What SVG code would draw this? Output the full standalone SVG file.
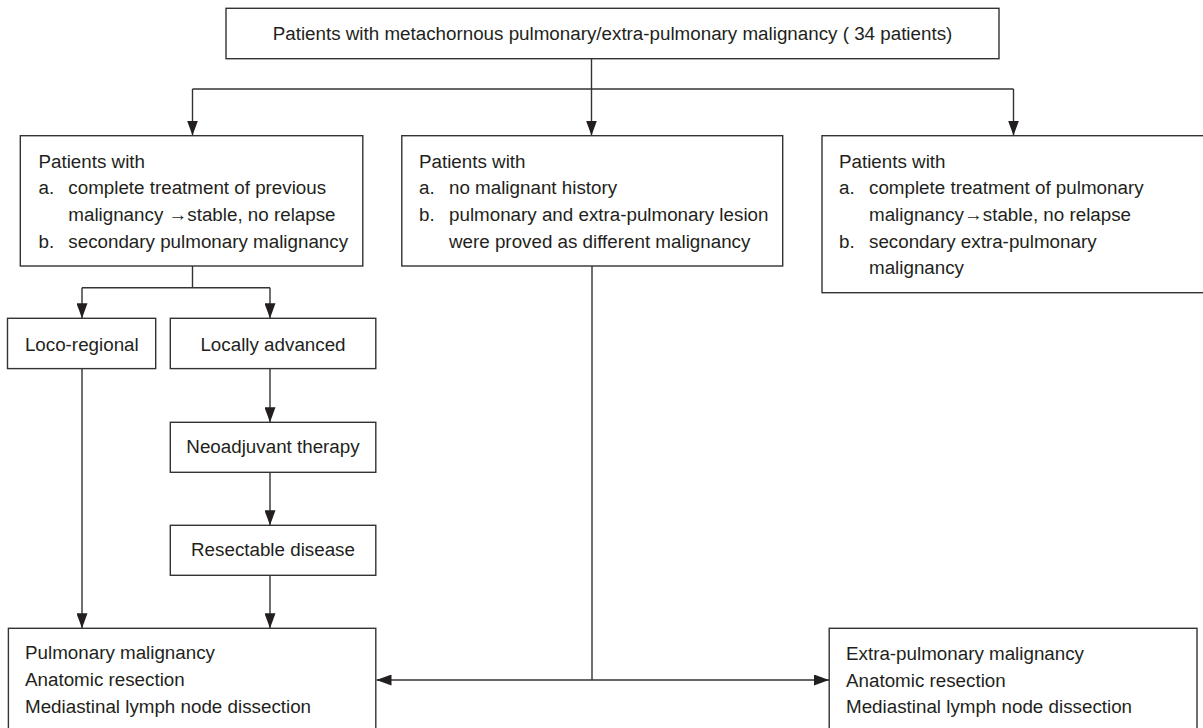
<svg xmlns="http://www.w3.org/2000/svg" width="1203" height="728" viewBox="0 0 1203 728">
<style>
.box{fill:#fff;stroke:#333;stroke-width:1.4}
.t{font-family:"Liberation Sans",Arial,Helvetica,sans-serif;font-size:18.8px;fill:#231f20}
.c{text-anchor:middle}
.ln{fill:none;stroke:#333;stroke-width:1.4}
.ar{marker-end:url(#ah)}
</style>
<defs>
<marker id="ah" markerUnits="userSpaceOnUse" markerWidth="15" markerHeight="11" refX="15" refY="5.5" orient="auto">
<path d="M0,0 L15,5.5 L0,11 z" fill="#231f20"/>
</marker>
</defs>
<rect width="1203" height="728" fill="#fff"/>
<g id="connectors">
<path class="ln" d="M591.5,59 V89"/>
<path class="ln" d="M192.5,89 H1013.5"/>
<path class="ln ar" d="M192.5,89 V135.5"/>
<path class="ln ar" d="M591.5,89 V135.5"/>
<path class="ln ar" d="M1013.5,89 V135.5"/>
<path class="ln" d="M192.5,266 V287.7 M82,287.7 H270"/>
<path class="ln ar" d="M82,287.7 V318.3"/>
<path class="ln ar" d="M270,287.7 V318.3"/>
<path class="ln ar" d="M270,369 V422.3"/>
<path class="ln ar" d="M270,472.3 V525.3"/>
<path class="ln ar" d="M270,575.3 V628.3"/>
<path class="ln ar" d="M82,369 V628.3"/>
<path class="ln" d="M592,266 V680"/>
<path class="ln ar" d="M592,680 H376.5"/>
<path class="ln ar" d="M592,680 H829"/>
</g>
<g id="top">
<rect class="box" x="226" y="8.3" width="773" height="50.4"/>
<text class="t c" x="612.5" y="40">Patients with metachornous pulmonary/extra-pulmonary malignancy ( 34 patients)</text>
</g>
<g id="left">
<rect class="box" x="20.3" y="135.7" width="342.5" height="130.3"/>
<text class="t" x="38.5" y="167.5">Patients with</text>
<text class="t" x="38.5" y="194.3">a.</text>
<text class="t" x="68.3" y="194.3">complete treatment of previous</text>
<text class="t" x="68.3" y="221">malignancy →stable, no relapse</text>
<text class="t" x="38.5" y="247.7">b.</text>
<text class="t" x="68.3" y="247.7">secondary pulmonary malignancy</text>
</g>
<g id="middle">
<rect class="box" x="401.8" y="135.7" width="380.9" height="130.3"/>
<text class="t" x="419" y="167.5">Patients with</text>
<text class="t" x="419" y="194.3">a.</text>
<text class="t" x="449" y="194.3">no malignant history</text>
<text class="t" x="419" y="221">b.</text>
<text class="t" x="449" y="221">pulmonary and extra-pulmonary lesion</text>
<text class="t" x="449" y="247.7">were proved as different malignancy</text>
</g>
<g id="right">
<rect class="box" x="822" y="135.7" width="390" height="157"/>
<text class="t" x="839" y="167.5">Patients with</text>
<text class="t" x="839" y="194.3">a.</text>
<text class="t" x="869" y="194.3">complete treatment of pulmonary</text>
<text class="t" x="869" y="221">malignancy→stable, no relapse</text>
<text class="t" x="839" y="247.7">b.</text>
<text class="t" x="869" y="247.7">secondary extra-pulmonary</text>
<text class="t" x="869" y="274.3">malignancy</text>
</g>
<g id="loco">
<rect class="box" x="7.5" y="318.3" width="148.2" height="50.3"/>
<text class="t c" x="81.8" y="350.7">Loco-regional</text>
</g>
<g id="locally">
<rect class="box" x="170.3" y="318.3" width="205.5" height="50.3"/>
<text class="t c" x="273" y="350.7">Locally advanced</text>
</g>
<g id="neo">
<rect class="box" x="170.3" y="422.3" width="205.5" height="50"/>
<text class="t c" x="273" y="453.3">Neoadjuvant therapy</text>
</g>
<g id="resect">
<rect class="box" x="170.3" y="525.3" width="205.5" height="50"/>
<text class="t c" x="273" y="556">Resectable disease</text>
</g>
<g id="pulm">
<rect class="box" x="8.4" y="628.3" width="367.4" height="110"/>
<text class="t" x="25" y="659.3">Pulmonary malignancy</text>
<text class="t" x="25" y="686">Anatomic resection</text>
<text class="t" x="25" y="713">Mediastinal lymph node dissection</text>
</g>
<g id="extra">
<rect class="box" x="829.2" y="628.3" width="367.8" height="110"/>
<text class="t" x="846" y="660">Extra-pulmonary malignancy</text>
<text class="t" x="846" y="686.7">Anatomic resection</text>
<text class="t" x="846" y="713.3">Mediastinal lymph node dissection</text>
</g>
</svg>
